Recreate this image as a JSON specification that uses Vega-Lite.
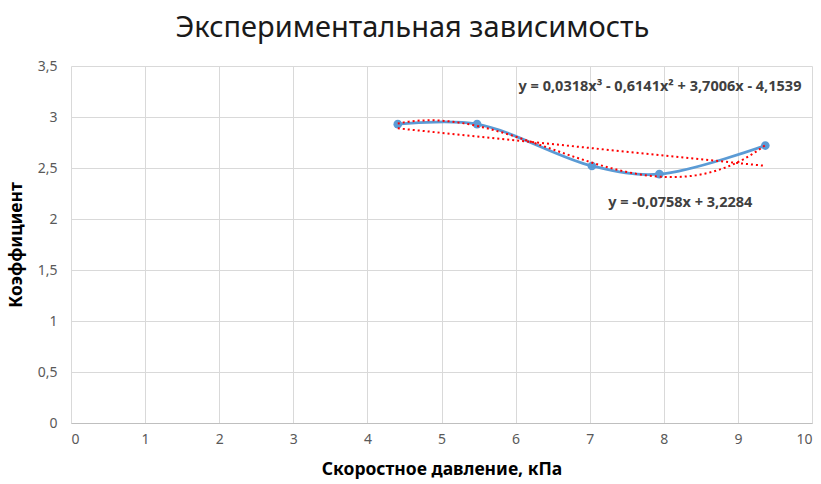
{
  "$schema": "https://vega.github.io/schema/vega-lite/v6.json",
  "width": 741,
  "height": 357,
  "autosize": {"type": "none"},
  "padding": {"left": 71, "top": 66, "right": 9, "bottom": 61},
  "background": "white",
  "title": {
    "text": "Экспериментальная зависимость",
    "font": "Noto Sans",
    "fontSize": 29,
    "fontWeight": "normal",
    "color": "#1a1a1a",
    "anchor": "middle",
    "dx": -29,
    "offset": 16
  },
  "datasets": {
    "pts": [
      {"p": 4.41, "k": 2.93},
      {"p": 5.48, "k": 2.93},
      {"p": 7.03, "k": 2.52},
      {"p": 7.94, "k": 2.44},
      {"p": 9.37, "k": 2.72}
    ],
    "notes": [
      {"p": 6.04, "k": 3.29, "t": "y = 0,0318x³ - 0,6141x² + 3,7006x - 4,1539"},
      {"p": 7.25, "k": 2.16, "t": "y = -0,0758x + 3,2284"}
    ]
  },
  "config": {
    "view": {"stroke": null},
    "font": "Noto Sans"
  },
  "encoding": {
    "x": {
      "field": "p", "type": "quantitative",
      "scale": {"domain": [0, 10], "nice": false},
      "axis": {
        "values": [0,1,2,3,4,5,6,7,8,9,10],
        "title": "Скоростное давление, кПа",
        "titleFont": "Noto Sans", "titleFontSize": 17.5, "titleFontWeight": "bold", "titleColor": "#000000",
        "titlePadding": 14,
        "labelFont": "Noto Sans", "labelFontSize": 14, "labelColor": "#595959", "labelPadding": 9,
        "ticks": false,
        "grid": true, "gridColor": "#D9D9D9",
        "domainColor": "#BFBFBF"
      }
    },
    "y": {
      "field": "k", "type": "quantitative",
      "scale": {"domain": [0, 3.5], "nice": false},
      "axis": {
        "values": [0,0.5,1,1.5,2,2.5,3,3.5],
        "format": "~g",
        "labelExpr": "replace(datum.label, '.', ',')",
        "title": "Коэффициент",
        "titleFont": "Noto Sans", "titleFontSize": 17.5, "titleFontWeight": "bold", "titleColor": "#000000",
        "titlePadding": 12,
        "labelFont": "Noto Sans", "labelFontSize": 14, "labelColor": "#595959", "labelPadding": 14,
        "ticks": false,
        "grid": true, "gridColor": "#D9D9D9",
        "domain": false
      }
    }
  },
  "layer": [
    {
      "data": {"name": "pts"},
      "mark": {"type": "line", "interpolate": "catmull-rom", "color": "#5B9BD5", "strokeWidth": 2.75}
    },
    {
      "data": {"name": "pts"},
      "mark": {"type": "point", "filled": true, "color": "#5B9BD5", "size": 75, "opacity": 1}
    },
    {
      "data": {"name": "pts"},
      "transform": [{"regression": "k", "on": "p", "method": "linear"}],
      "mark": {"type": "line", "color": "#FF0000", "strokeWidth": 2, "strokeDash": [2, 3]}
    },
    {
      "data": {"name": "pts"},
      "transform": [{"regression": "k", "on": "p", "method": "poly", "order": 3}],
      "mark": {"type": "line", "color": "#FF0000", "strokeWidth": 2, "strokeDash": [2, 3]}
    },
    {
      "data": {"name": "notes"},
      "mark": {"type": "text", "align": "left", "baseline": "middle", "font": "Noto Sans", "fontSize": 14.5, "fontWeight": "bold", "color": "#404040"},
      "encoding": {"text": {"field": "t"}}
    }
  ]
}
